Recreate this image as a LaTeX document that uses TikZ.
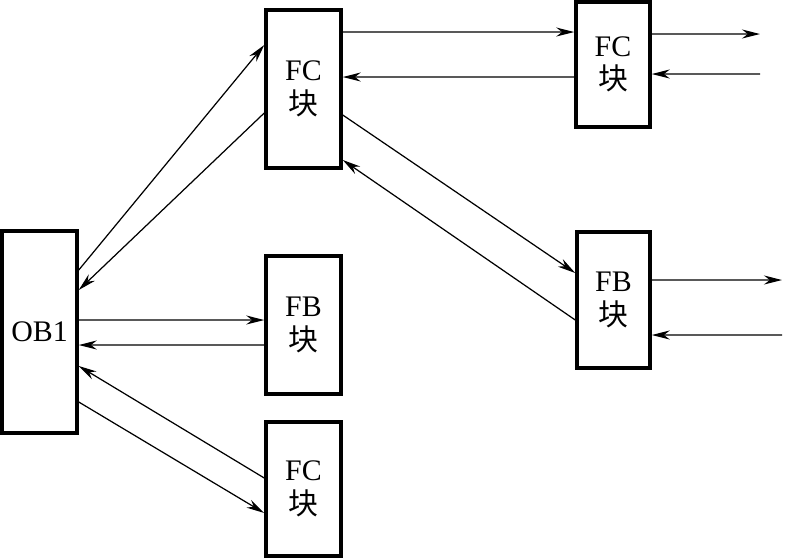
\documentclass[tikz,border=0pt]{standalone}
\usepackage{fontspec}
\setmainfont{Liberation Serif}
\newfontfamily\cjk{Noto Sans CJK SC}
\usepackage{tikz}
\usetikzlibrary{arrows.meta,calc}

\begin{document}
\begin{tikzpicture}[x=0.02cm,y=-0.02cm,
    blk/.style={rectangle, draw, line width=2pt, minimum width=1.5cm, font=\fontsize{17}{19}\selectfont, align=center, inner sep=0pt},
    arr/.style={-{Stealth[length=3.6mm,width=1.8mm]}, line width=0.7pt}]
        \useasboundingbox (0,0) rectangle (785,559);
        % blocks
        \node[blk, minimum height=4.04cm] (ob) at (39.5,332) {OB1};
        \node[blk, minimum height=3.16cm] (fcA) at (303.5,89) {FC\\{\cjk 块}};
        \node[blk, minimum height=2.76cm] (fbM) at (303.5,325) {FB\\{\cjk 块}};
        \node[blk, minimum height=2.68cm] (fcB) at (303.5,489) {FC\\{\cjk 块}};
        \node[blk, minimum height=2.5cm, minimum width=1.48cm] (fcR) at (613,64.5) {FC\\{\cjk 块}};
        \node[blk, minimum height=2.72cm, minimum width=1.46cm] (fbR) at (613.5,300) {FB\\{\cjk 块}};
        \coordinate (outA) at (760,34);
        \coordinate (inA) at (760,74);
        \coordinate (outB) at (782,280);
        \coordinate (inB) at (782,335);
        % connections
        \draw[arr] ([yshift=1.24cm]ob.east) -- ([yshift=0.88cm]fcA.west);
        \draw[arr] ([yshift=-0.48cm]fcA.west) -- ([yshift=0.84cm]ob.east);
        \draw[arr] ([yshift=0.24cm]ob.east) -- ([yshift=0.1cm]fbM.west);
        \draw[arr] ([yshift=-0.4cm]fbM.west) -- ([yshift=-0.26cm]ob.east);
        \draw[arr] ([yshift=0.22cm]fcB.west) -- ([yshift=-0.68cm]ob.east);
        \draw[arr] ([yshift=-1.4cm]ob.east) -- ([yshift=-0.48cm]fcB.west);
        \draw[arr] ([yshift=1.14cm]fcA.east) -- ([yshift=0.65cm]fcR.west);
        \draw[arr] ([yshift=-0.25cm]fcR.west) -- ([yshift=0.24cm]fcA.east);
        \draw[arr] ([yshift=0.61cm]fcR.east) -- (outA);
        \draw[arr] (inA) -- ([yshift=-0.19cm]fcR.east);
        \draw[arr] ([yshift=-0.52cm]fcA.east) -- ([yshift=0.54cm]fbR.west);
        \draw[arr] ([yshift=-0.4cm]fbR.west) -- ([yshift=-1.42cm]fcA.east);
        \draw[arr] ([yshift=0.4cm]fbR.east) -- (outB);
        \draw[arr] (inB) -- ([yshift=-0.7cm]fbR.east);
      \end{tikzpicture}
\end{document}
